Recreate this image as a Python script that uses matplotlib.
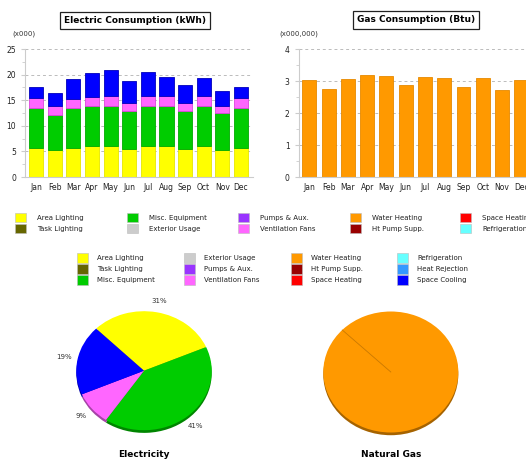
import numpy as np
import matplotlib
matplotlib.use("Agg")
import matplotlib.pyplot as plt
from matplotlib.patches import Rectangle

plt.rcParams['font.family'] = ['DejaVu Sans']

months = ['Jan', 'Feb', 'Mar', 'Apr', 'May', 'Jun', 'Jul', 'Aug', 'Sep', 'Oct', 'Nov', 'Dec']

# electric consumption by end use (x000 kWh)
area_lighting = [5.7, 5.2, 5.7, 6.0, 6.0, 5.5, 6.0, 6.0, 5.5, 6.0, 5.2, 5.7]
misc_equipment = [7.8, 7.0, 7.8, 7.9, 7.9, 7.4, 7.9, 7.9, 7.4, 7.9, 7.3, 7.8]
ventilation_fans = [1.9, 1.6, 1.7, 1.7, 1.85, 1.65, 1.85, 1.85, 1.65, 1.85, 1.4, 1.9]
space_cooling = [2.2, 2.6, 3.9, 4.8, 5.15, 4.2, 4.85, 3.75, 3.4, 3.55, 2.8, 2.2]

# gas consumption, water heating (x000,000 Btu)
water_heating = [3.04, 2.75, 3.06, 3.18, 3.16, 2.87, 3.11, 3.08, 2.8, 3.08, 2.71, 3.02]

elec_share = [31, 41, 9, 19]
elec_share_colors = ['#ffff00', '#00cc00', '#ff66ff', '#0000ff']
gas_share = [100]

legend_top = [
    ('Area Lighting', '#ffff00'), ('Task Lighting', '#666600'),
    ('Misc. Equipment', '#00cc00'), ('Exterior Usage', '#cccccc'),
    ('Pumps & Aux.', '#9933ff'), ('Ventilation Fans', '#ff66ff'),
    ('Water Heating', '#ff9900'), ('Ht Pump Supp.', '#990000'),
    ('Space Heating', '#ff0000'), ('Refrigeration', '#66ffff'),
]
legend_bottom = [
    ['Area Lighting', 'Task Lighting', 'Misc. Equipment'],
    ['Exterior Usage', 'Pumps & Aux.', 'Ventilation Fans'],
    ['Water Heating', 'Ht Pump Supp.', 'Space Heating'],
    ['Refrigeration', 'Heat Rejection', 'Space Cooling'],
]
colors = dict(legend_top)
colors['Heat Rejection'] = '#3399ff'
colors['Space Cooling'] = '#0000ff'

W, H = 526, 461
fig = plt.figure(figsize=(W / 100, H / 100), dpi=100)


def box(x0, y0, x1, y1):
    # pixel box -> figure fraction
    return [x0 / W, 1 - y1 / H, (x1 - x0) / W, (y1 - y0) / H]


def style_bar_axes(ax):
    for s in ['top', 'right']:
        ax.spines[s].set_visible(False)
    ax.spines['left'].set_color('#cccccc')
    ax.spines['bottom'].set_color('#cccccc')
    ax.tick_params(axis='both', labelsize=5.5, colors='#cccccc', labelcolor='#222222', length=3)
    ax.tick_params(axis='x', length=0, pad=4)
    ax.tick_params(axis='y', which='minor', length=2, colors='#cccccc')
    ax.grid(axis='y', linestyle=(0, (3, 3)), color='#bbbbbb', linewidth=0.7)
    ax.set_axisbelow(True)


# electric bars
ax1 = fig.add_axes(box(25, 49, 253, 177))
x = np.arange(len(months))
bottom = np.zeros(len(months))
for vals, col, ec in [(area_lighting, '#ffff00', '#e6e600'),
                      (misc_equipment, '#00cc00', '#00aa00'),
                      (ventilation_fans, '#ff66ff', '#dd44dd'),
                      (space_cooling, '#0000ff', '#0000bb')]:
    ax1.bar(x, vals, bottom=bottom, width=0.76, color=col, edgecolor=ec, linewidth=0.6)
    bottom += np.array(vals)
ax1.set_xlim(-0.6, 11.65)
ax1.set_ylim(0, 25)
ax1.set_yticks([0, 5, 10, 15, 20, 25])
ax1.set_yticks(np.arange(0, 25, 2.5), minor=True)
ax1.set_xticks(x)
ax1.set_xticklabels(months)
style_bar_axes(ax1)
fig.text(12 / W, 1 - 34 / H, '(x000)', fontsize=5, va='center', color='#333333')
fig.text(135 / W, 1 - 20.5 / H, 'Electric Consumption (kWh)', fontsize=6.5, fontweight='bold',
         ha='center', va='center',
         bbox=dict(boxstyle='square,pad=0.45', fc='white', ec='#222222', lw=0.9))

# gas bars
ax2 = fig.add_axes(box(298.7, 49, 532, 177))
ax2.bar(x, water_heating, width=0.72, color='#ff9900', edgecolor='#e68a00', linewidth=0.6)
ax2.set_xlim(-0.55, 11.55)
ax2.set_ylim(0, 4)
ax2.set_yticks([0, 1, 2, 3, 4])
ax2.set_yticks(np.arange(0, 4, 0.5), minor=True)
ax2.set_xticks(x)
ax2.set_xticklabels(months)
style_bar_axes(ax2)
fig.text(279 / W, 1 - 34 / H, '(x000,000)', fontsize=5, va='center', color='#333333')
fig.text(416 / W, 1 - 20 / H, 'Gas Consumption (Btu)', fontsize=6.5, fontweight='bold',
         ha='center', va='center',
         bbox=dict(boxstyle='square,pad=0.45', fc='white', ec='#222222', lw=0.9))

# legends
for i, (name, col) in enumerate(legend_top):
    cx = [15, 126.7, 238.3, 350, 460][i // 2]
    cy = [217.5, 228.5][i % 2]
    fig.patches.append(Rectangle(((cx) / W, 1 - (cy + 5) / H), 11 / W, 10 / H,
                                 transform=fig.transFigure, fc=col, ec='#bbbbbb', lw=0.4))
    fig.text((cx + 22) / W, 1 - cy / H, name, fontsize=5, va='center', color='#222222')

for c, col_names in enumerate(legend_bottom):
    cx = [77, 184, 291, 397][c]
    for r, name in enumerate(col_names):
        cy = [258.3, 269, 279.7][r]
        fig.patches.append(Rectangle((cx / W, 1 - (cy + 5) / H), 11 / W, 10 / H,
                                     transform=fig.transFigure, fc=colors[name], ec='#bbbbbb', lw=0.4))
        fig.text((cx + 20) / W, 1 - cy / H, name, fontsize=5, va='center', color='#222222')


def darker(c, f=0.65):
    rgb = np.array(matplotlib.colors.to_rgb(c))
    return tuple(rgb * f)


def pie_axes(cx, cy, rx, ry):
    lim = 1.4
    ax = fig.add_axes(box(cx - rx * lim, cy - ry * lim, cx + rx * lim, cy + ry * lim))
    ax.set_xlim(-lim, lim)
    ax.set_ylim(-lim, lim)
    ax.set_aspect('auto')
    ax.axis('off')
    return ax


# electricity pie
ax3 = pie_axes(144, 370.7, 67.7, 59.5)
ax3.pie(elec_share, colors=[darker(c) for c in elec_share_colors], startangle=135,
        counterclock=False, center=(0, -0.045), radius=1.0,
        wedgeprops=dict(linewidth=0))
ax3.pie(elec_share, colors=elec_share_colors, startangle=135, counterclock=False,
        autopct='%d%%', pctdistance=1.2, radius=1.0,
        textprops=dict(fontsize=5, color='#333333'),
        wedgeprops=dict(linewidth=0))
ax3.set_xlim(-1.4, 1.4)
ax3.set_ylim(-1.4, 1.4)
ax3.set_aspect('auto')
fig.text(144 / W, 1 - 454 / H, 'Electricity', fontsize=6.5, fontweight='bold', ha='center', va='center')

# natural gas pie
ax4 = pie_axes(390.8, 372, 67.5, 60.5)
ax4.pie(gas_share, colors=[darker('#ff9900')], startangle=136, counterclock=False,
        center=(0, -0.045), wedgeprops=dict(linewidth=0))
ax4.pie(gas_share, colors=['#ff9900'], startangle=136, counterclock=False,
        wedgeprops=dict(linewidth=0))
ang = np.deg2rad(136)
ax4.plot([0, np.cos(ang)], [0, np.sin(ang)], color='#b36b00', lw=0.6, alpha=0.7)
ax4.set_xlim(-1.4, 1.4)
ax4.set_ylim(-1.4, 1.4)
ax4.set_aspect('auto')
fig.text(390.8 / W, 1 - 454 / H, 'Natural Gas', fontsize=6.5, fontweight='bold', ha='center', va='center')

plt.savefig('out.png', dpi=100)
